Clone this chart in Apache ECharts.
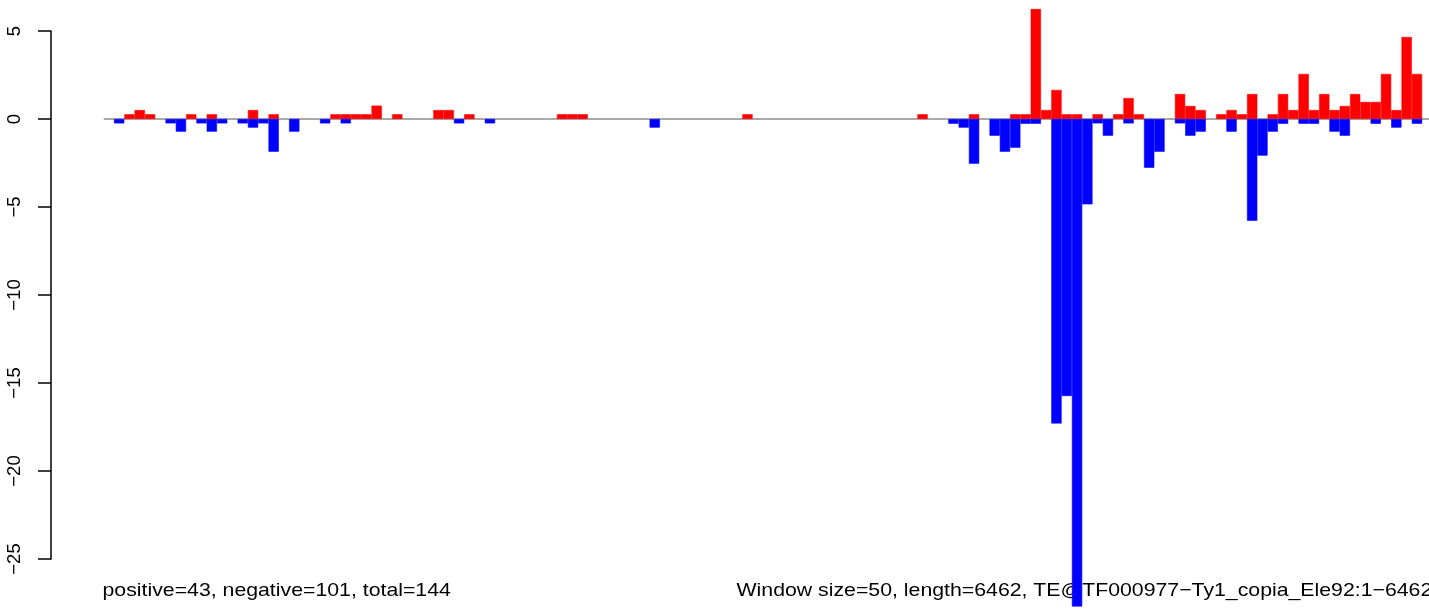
<!DOCTYPE html>
<html><head><meta charset="utf-8">
<script src="https://cdn.jsdelivr.net/npm/echarts@6/dist/echarts.min.js"></script>
<style>html,body{margin:0;padding:0;background:#fff}#chart{width:1429px;height:613px}</style>
</head><body><div id="chart"></div>
<script>
// ---- data ----
const windowSize = 50;
const windowCount = 130;
const categories = Array.from({length: windowCount}, (_, i) => i * windowSize + 1);

const positiveValues = [
  0, 0, 0.27, 0.51, 0.27, 0, 0, 0, 0.27, 0,
  0.27, 0, 0, 0, 0.51, 0, 0.27, 0, 0, 0,
  0, 0, 0.27, 0.27, 0.27, 0.27, 0.76, 0, 0.27, 0,
  0, 0, 0.51, 0.51, 0, 0.27, 0, 0, 0, 0,
  0, 0, 0, 0, 0.27, 0.27, 0.27, 0, 0, 0,
  0, 0, 0, 0, 0, 0, 0, 0, 0, 0,
  0, 0, 0.27, 0, 0, 0, 0, 0, 0, 0,
  0, 0, 0, 0, 0, 0, 0, 0, 0, 0.27,
  0, 0, 0, 0, 0.27, 0, 0, 0, 0.27, 0.27,
  6.25, 0.51, 1.65, 0.27, 0.27, 0, 0.27, 0, 0.27, 1.19,
  0.27, 0, 0, 0, 1.42, 0.74, 0.51, 0, 0.27, 0.51,
  0.27, 1.42, 0, 0.27, 1.42, 0.51, 2.56, 0.51, 1.42, 0.51,
  0.74, 1.42, 0.97, 0.97, 2.56, 0.51, 4.66, 2.56, 0, 0
];

const negativeValues = [
  0, -0.25, 0, 0, 0, 0, -0.25, -0.72, 0, -0.25,
  -0.72, -0.25, 0, -0.25, -0.49, -0.25, -1.86, 0, -0.72, 0,
  0, -0.25, 0, -0.25, 0, 0, 0, 0, 0, 0,
  0, 0, 0, 0, -0.25, 0, 0, -0.25, 0, 0,
  0, 0, 0, 0, 0, 0, 0, 0, 0, 0,
  0, 0, 0, -0.49, 0, 0, 0, 0, 0, 0,
  0, 0, 0, 0, 0, 0, 0, 0, 0, 0,
  0, 0, 0, 0, 0, 0, 0, 0, 0, 0,
  0, 0, -0.27, -0.49, -2.54, 0, -0.95, -1.86, -1.63, -0.27,
  -0.27, 0, -17.3, -15.74, -27.7, -4.85, -0.25, -0.95, 0, -0.25,
  0, -2.77, -1.86, 0, -0.25, -0.95, -0.72, 0, 0, -0.72,
  0, -5.78, -2.08, -0.72, -0.27, 0, -0.27, -0.27, 0, -0.72,
  -0.95, 0, 0, -0.27, 0, -0.49, 0, -0.27, 0, 0
];

const yMin = -25, yMax = 5, yStep = 5;
const leftCaption = 'positive=43, negative=101, total=144';
const rightCaption = 'Window size=50, length=6462, TE@TF000977\u2212Ty1_copia_Ele92:1\u22126462';

// empty windows are not drawn (avoids zero-height outlines)
const asBars = arr => arr.map(v => (v === 0 ? null : v));

// ---- chart ----
const FONT = '"Liberation Sans", Arial, Helvetica, sans-serif';
const chart = echarts.init(document.getElementById('chart'), null, {renderer: 'canvas'});
chart.setOption({
  animation: false,
  backgroundColor: '#ffffff',
  grid: {left: 103.7, top: 31, width: 1339, height: 528, containLabel: false, outerBoundsMode: 'none'},
  xAxis: {
    type: 'category', data: categories, show: false, boundaryGap: true
  },
  yAxis: {
    type: 'value', min: yMin, max: yMax, interval: yStep,
    position: 'left', offset: 52.7,
    axisLine: {show: true, onZero: false, lineStyle: {color: '#000', width: 1.5}},
    axisTick: {show: true, inside: false, length: 13, lineStyle: {color: '#000', width: 1.5}},
    axisLabel: {
      rotate: 90, margin: 27, fontSize: 18.5, fontFamily: FONT, color: '#000',
      formatter: v => String(v).replace('-', '\u2212')
    },
    splitLine: {show: false}
  },
  series: [
    {
      name: 'positive', type: 'bar', data: asBars(positiveValues),
      barCategoryGap: '0%', barGap: '-100%', clip: false,
      itemStyle: {color: '#FF0000', borderColor: '#FF0000', borderWidth: 0.6}, z: 3,
      markLine: {
        silent: true, symbol: 'none', z: 1,
        lineStyle: {color: '#A9A9A9', width: 2, type: 'solid'},
        label: {show: false},
        data: [{yAxis: 0}]
      }
    },
    {
      name: 'negative', type: 'bar', data: asBars(negativeValues),
      barCategoryGap: '0%', barGap: '-100%', clip: false,
      itemStyle: {color: '#0000FF', borderColor: '#0000FF', borderWidth: 0.6}, z: 3
    }
  ],
  graphic: [
    {type: 'text', x: 102.5, y: 590.8, scaleX: 1.15, z: 1,
     style: {text: leftCaption, font: '18.5px ' + FONT, fill: '#000', align: 'left', textAlign: 'left', verticalAlign: 'middle', textVerticalAlign: 'middle'}},
    {type: 'text', x: 736.5, y: 590.8, scaleX: 1.15, z: 1,
     style: {text: rightCaption, font: '18.5px ' + FONT, fill: '#000', align: 'left', textAlign: 'left', verticalAlign: 'middle', textVerticalAlign: 'middle'}}
  ]
});
</script></body></html>
